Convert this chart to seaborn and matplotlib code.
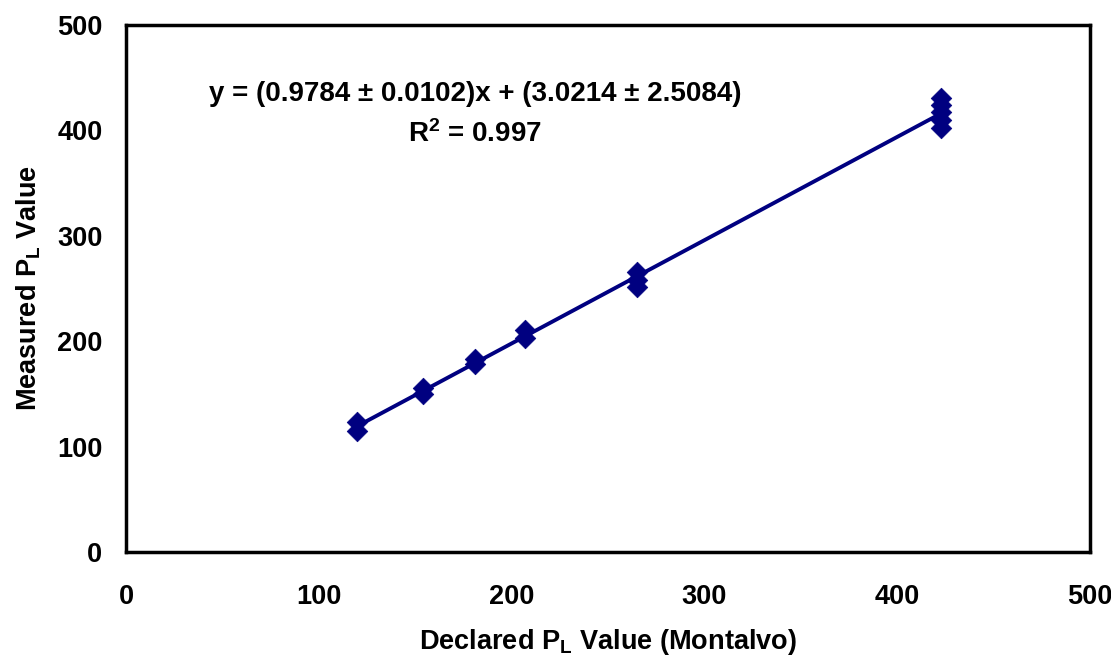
import matplotlib
matplotlib.use("Agg")
import matplotlib.pyplot as plt
import seaborn as sns
import numpy as np
import pandas as pd

declared = [120, 120, 154, 154, 181, 181, 207, 207, 265, 265, 265, 423, 423, 423, 423, 423]
measured = [123, 115, 156, 150, 183, 178, 211, 203, 266, 258, 251, 431, 424, 417, 410, 402]
xticks = [0, 100, 200, 300, 400, 500]
yticks = [0, 100, 200, 300, 400, 500]
equation_text = "y = (0.9784 \u00b1 0.0102)x + (3.0214 \u00b1 2.5084)"
r2_text = r"R$^\mathbf{2}$ = 0.997"

sns.set_style("white")
plt.rcParams['font.family'] = ['Liberation Sans', 'DejaVu Sans']
plt.rcParams['font.weight'] = 'bold'
plt.rcParams['text.color'] = 'black'
plt.rcParams['axes.labelcolor'] = 'black'
plt.rcParams['xtick.color'] = 'black'
plt.rcParams['ytick.color'] = 'black'
plt.rcParams['mathtext.fontset'] = 'custom'
plt.rcParams['mathtext.rm'] = 'Liberation Sans:bold'
plt.rcParams['mathtext.bf'] = 'Liberation Sans:bold'
plt.rcParams['mathtext.it'] = 'Liberation Sans:bold'

df = pd.DataFrame({"declared": declared, "measured": measured})

fig = plt.figure(figsize=(11.11, 6.57), dpi=100)
ax = fig.add_axes([0.1134, 0.1598, 0.8676, 0.8022])

navy = "#000080"
sns.regplot(data=df, x="declared", y="measured", ax=ax, ci=None, truncate=True,
            marker="D", color=navy,
            scatter_kws={"s": 110, "edgecolor": navy, "linewidths": 0.5,
                         "alpha": 1, "zorder": 3},
            line_kws={"linewidth": 2.8, "color": navy, "zorder": 2})

ax.set_xlim(0, 500)
ax.set_ylim(0, 500)
ax.set_xticks(xticks)
ax.set_yticks(yticks)
ax.tick_params(axis='both', direction='out', length=7, width=1.2, color='black',
               labelcolor='black', labelsize=19.5)
ax.tick_params(axis='x', pad=16)
ax.tick_params(axis='y', pad=10)
for lab in ax.get_xticklabels() + ax.get_yticklabels():
    lab.set_fontweight('bold')
for s in ax.spines.values():
    s.set_visible(True)
    s.set_color('black')
    s.set_linewidth(2.5)

ax.set_xlabel(r"Declared $\mathbf{P_L}$ Value (Montalvo)", fontsize=19.5, fontweight='bold',
              labelpad=12, color='black')
ax.set_ylabel(r"Measured $\mathbf{P_L}$ Value", fontsize=19.5, fontweight='bold',
              labelpad=10, color='black')

ax.text(0.362, 0.869, equation_text, transform=ax.transAxes, ha='center', va='center',
        fontsize=20, fontweight='bold', color='black')
ax.text(0.362, 0.793, r2_text, transform=ax.transAxes, ha='center', va='center',
        fontsize=20, fontweight='bold', color='black')

fig.savefig("out.png", dpi=100, facecolor='white')
